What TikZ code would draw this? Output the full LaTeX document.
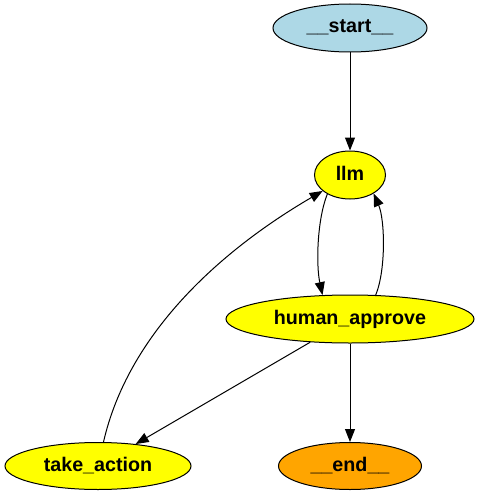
\documentclass[tikz,border=0pt]{standalone}
\usepackage{fontspec}
\setmainfont{Liberation Sans}
\usetikzlibrary{shapes.geometric,arrows.meta}
\definecolor{gvlightblue}{HTML}{ADD8E6}
\definecolor{gvyellow}{HTML}{FFFF00}
\definecolor{gvorange}{HTML}{FFA500}
\tikzset{
  gvnode/.style={ellipse, draw=black, line width=1pt, inner sep=0pt,
    minimum height=48pt, text height=14pt, text depth=4pt,
    font=\fontsize{19.7}{22}\selectfont\bfseries},
  gvedge/.style={draw=black, line width=1pt,
    -{Triangle[length=13pt,width=10pt]}}
}
\begin{document}
\begin{tikzpicture}[x=1pt,y=-1pt]
\useasboundingbox (0,0) rectangle (479,495);
\node[gvnode, fill=gvlightblue, minimum width=154pt] (start) at (350,28) {\_\_start\_\_};
\node[gvnode, fill=gvyellow, minimum width=71pt] (llm) at (350,175) {llm};
\node[gvnode, fill=gvyellow, minimum width=248pt] (ha) at (350,319) {human\_approve};
\node[gvnode, fill=gvyellow, minimum width=186pt, minimum height=47pt] (ta) at (98,466) {take\_action};
\node[gvnode, fill=gvorange, minimum width=143pt, minimum height=47pt] (end) at (350,466) {\_\_end\_\_};

\draw[gvedge] (start) -- (llm);
\draw[gvedge] (llm.220) .. controls (317,220) and (316,265) .. (ha.139);
\draw[gvedge] (ha.43) .. controls (386,270) and (385,220) .. (llm.322);
\draw[gvedge] (ha) -- (ta);
\draw[gvedge] (ha) -- (end);
\draw[gvedge] (ta) .. controls (128,335) and (218,252) .. (llm);
\end{tikzpicture}
\end{document}
